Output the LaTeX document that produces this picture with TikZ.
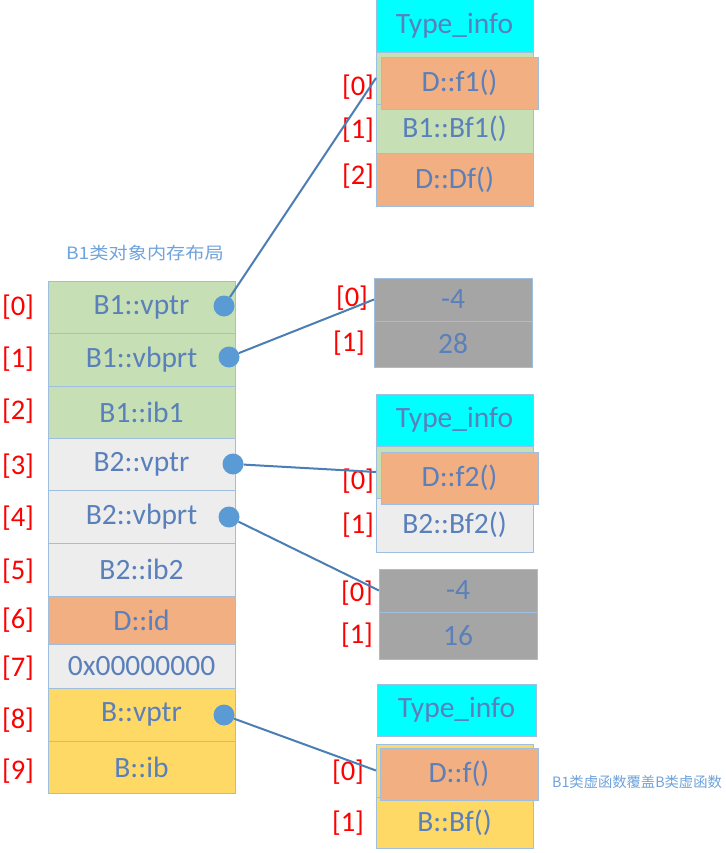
\documentclass[tikz,border=0pt]{standalone}
\usepackage{fontspec}
\setmainfont{Carlito}
\newfontfamily\cjk{Noto Sans CJK SC}
\definecolor{greenc}{HTML}{C6DFB4}
\definecolor{lgray}{HTML}{EDEDED}
\definecolor{orangec}{HTML}{F2AF82}
\definecolor{yellowc}{HTML}{FFD966}
\definecolor{cyanc}{HTML}{00FFFF}
\definecolor{dgray}{HTML}{A5A5A5}
\definecolor{bordc}{HTML}{9FBFE0}
\definecolor{txtc}{HTML}{5A80BB}
\definecolor{linec}{HTML}{4A7EB5}
\definecolor{dotc}{HTML}{5B9BD5}
\definecolor{notec}{HTML}{6FA3DC}
\begin{document}
\begin{tikzpicture}[x=1pt,y=-1pt,
  cell/.style={draw=bordc, line width=0.8pt, inner sep=0pt, outer sep=0pt,
    text=txtc, font=\fontsize{29.5}{31}\selectfont, anchor=north west},
  idx/.style={text=red, font=\fontsize{28.5}{30}\selectfont, inner sep=0pt},
  dotn/.style={circle, fill=dotc, minimum size=21pt, inner sep=0pt},
  link/.style={draw=linec, line width=2pt},
  note/.style={text=notec, inner sep=0pt}]
\useasboundingbox[fill=white] (0,0) rectangle (725,853);

% title
\node[note, font=\cjk\fontsize{17}{18}\selectfont] (title) at (145,253) {\scalebox{1.13}[1]{B1类对象内存布局}};

% left column
\node[cell, fill=greenc, minimum width=187pt, minimum height=52pt] (r0) at (48,281) {B1::vptr};
\node[cell, fill=greenc, minimum width=187pt, minimum height=53pt] (r1) at (48,333) {B1::vbprt};
\node[cell, fill=greenc, minimum width=187pt, minimum height=52pt] (r2) at (48,386) {B1::ib1};
\node[cell, fill=lgray, minimum width=187pt, minimum height=52pt] (r3) at (48,438) {B2::vptr};
\node[cell, fill=lgray, minimum width=187pt, minimum height=53pt] (r4) at (48,490) {B2::vbprt};
\node[cell, fill=lgray, minimum width=187pt, minimum height=53pt] (r5) at (48,543) {B2::ib2};
\node[cell, fill=orangec, minimum width=187pt, minimum height=48pt] (r6) at (48,596) {D::id};
\node[cell, fill=lgray, minimum width=187pt, minimum height=44pt] (r7) at (48,644) {0x00000000};
\node[cell, fill=yellowc, minimum width=187pt, minimum height=53pt] (r8) at (48,688) {B::vptr};
\node[cell, fill=yellowc, minimum width=187pt, minimum height=52pt] (r9) at (48,741) {B::ib};

% left indices
\node[idx] (i0) at (18,307) {[0]};
\node[idx] (i1) at (18,359) {[1]};
\node[idx] (i2) at (18,411) {[2]};
\node[idx] (i3) at (18,466) {[3]};
\node[idx] (i4) at (18,518) {[4]};
\node[idx] (i5) at (18,571) {[5]};
\node[idx] (i6) at (18,620) {[6]};
\node[idx] (i7) at (18,668) {[7]};
\node[idx] (i8) at (18,720) {[8]};
\node[idx] (i9) at (18,771) {[9]};

% table 1
\node[cell, fill=cyanc, minimum width=157pt, minimum height=53pt] (t1h) at (376,-1) {Type\_info};
\node[cell, fill=greenc, minimum width=157pt, minimum height=52pt] (t1g0) at (376,52) {};
\node[cell, fill=greenc, minimum width=157pt, minimum height=49pt] (t1g1) at (376,104) {B1::Bf1()};
\node[cell, fill=orangec, minimum width=157pt, minimum height=53pt] (t1d) at (376,153) {D::Df()};
\node[cell, fill=orangec, minimum width=157pt, minimum height=52pt] (t1o) at (381,57) {D::f1()};
\node[idx] (j10) at (358,87) {[0]};
\node[idx] (j11) at (358,130) {[1]};
\node[idx] (j12) at (358,176) {[2]};

% table 2
\node[cell, fill=dgray, minimum width=158pt, minimum height=43pt] (t2a) at (374,278) {-4};
\node[cell, fill=dgray, minimum width=158pt, minimum height=46pt] (t2b) at (374,321) {28};
\node[idx] (j20) at (352,298) {[0]};
\node[idx] (j21) at (349,343) {[1]};

% table 3
\node[cell, fill=cyanc, minimum width=157pt, minimum height=52pt] (t3h) at (376,394) {Type\_info};
\node[cell, fill=greenc, minimum width=157pt, minimum height=52pt] (t3g) at (376,446) {};
\node[cell, fill=lgray, minimum width=157pt, minimum height=54pt] (t3b) at (376,498) {B2::Bf2()};
\node[cell, fill=orangec, minimum width=157pt, minimum height=52pt] (t3o) at (381,452) {D::f2()};
\node[idx] (j30) at (358,481) {[0]};
\node[idx] (j31) at (358,525) {[1]};

% table 4
\node[cell, fill=dgray, minimum width=158pt, minimum height=43pt] (t4a) at (379,569) {-4};
\node[cell, fill=dgray, minimum width=158pt, minimum height=47pt] (t4b) at (379,612) {16};
\node[idx] (j40) at (357,593) {[0]};
\node[idx] (j41) at (357,635) {[1]};

% table 5
\node[cell, fill=cyanc, minimum width=159pt, minimum height=52pt] (t5h) at (377,684) {Type\_info};
\node[cell, fill=yellowc, minimum width=157pt, minimum height=53pt] (t5y) at (376,744) {};
\node[cell, fill=yellowc, minimum width=157pt, minimum height=51pt] (t5b) at (376,797) {B::Bf()};
\node[cell, fill=orangec, minimum width=158pt, minimum height=52pt] (t5o) at (380,748) {D::f()};
\node[idx] (j50) at (348,772) {[0]};
\node[idx] (j51) at (348,823) {[1]};

% note
\node[note, font=\cjk\fontsize{14.3}{15}\selectfont] (note) at (637,782) {B1类虚函数覆盖B类虚函数};

% dots
\node[dotn] (d0) at (224,306) {};
\node[dotn] (d1) at (229,357) {};
\node[dotn] (d3) at (233,464) {};
\node[dotn] (d4) at (229,517) {};
\node[dotn] (d8) at (224,715) {};

% connectors
\draw[link] (d0) -- (t1g0.west);
\draw[link] (d1) -- (t2a.west);
\draw[link] (d3) -- (t3g.west);
\draw[link] (d4) -- (t4a.west);
\draw[link] (d8) -- (t5y.west);
\end{tikzpicture}
\end{document}
